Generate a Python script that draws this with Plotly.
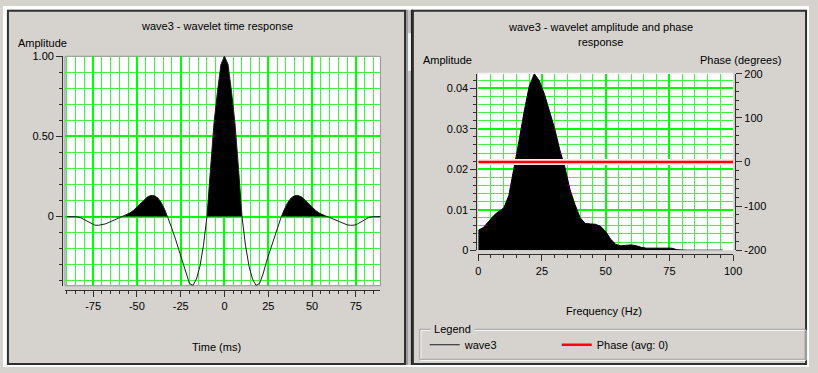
import plotly.graph_objects as go

# ---- wavelet time response (ms vs amplitude) ----
time_ms = [-90, -88, -86, -84, -82, -80, -78, -76, -74, -72, -70, -68, -66, -64, -62,
           -60, -58, -56, -54, -52, -50, -48, -46, -44, -42, -40, -38, -36, -34, -32,
           -30, -28, -26, -24, -22, -20, -18, -16, -14, -12, -10, -8, -6, -4, -2,
           0, 2, 4, 6, 8, 10, 12, 14, 16, 18, 20, 22, 24, 26, 28,
           30, 32, 34, 36, 38, 40, 42, 44, 46, 48, 50, 52, 54, 56, 58,
           60, 62, 64, 66, 68, 70, 72, 74, 76, 78, 80, 82, 84, 86, 88, 90]
wavelet_amp = [0.000, 0.000, 0.000, -0.002, -0.008, -0.019, -0.033, -0.046, -0.054, -0.055,
               -0.052, -0.046, -0.037, -0.027, -0.016, -0.006, 0.002, 0.010, 0.022, 0.038,
               0.058, 0.080, 0.103, 0.122, 0.131, 0.130, 0.115, 0.085, 0.040, -0.015,
               -0.075, -0.140, -0.210, -0.280, -0.360, -0.418, -0.430, -0.390, -0.310, -0.180,
               0.000, 0.300, 0.580, 0.780, 0.950,
               1.000,
               0.950, 0.780, 0.580, 0.300, 0.000, -0.180, -0.310, -0.390, -0.430, -0.418,
               -0.360, -0.280, -0.210, -0.140, -0.075, -0.015, 0.040, 0.085, 0.115, 0.130,
               0.131, 0.122, 0.103, 0.080, 0.058, 0.038, 0.022, 0.010, 0.002, -0.006,
               -0.016, -0.027, -0.037, -0.046, -0.052, -0.055, -0.054, -0.046, -0.033, -0.019,
               -0.008, -0.002, 0.000, 0.000, 0.000]
time_ticks = [-75, -50, -25, 0, 25, 50, 75]
time_tick_text = ["-75", "-50", "-25", "0", "25", "50", "75"]
amp_ticks = [0, 0.5, 1.0]
amp_tick_text = ["0", "0.50", "1.00"]

# ---- amplitude spectrum (Hz vs amplitude) and phase ----
freq_hz = [0, 2, 4, 6, 8, 10, 12, 14, 16, 18, 20, 22, 24, 26, 28, 30, 32, 34, 36, 38,
           40, 42, 44, 46, 48, 50, 52, 54, 56, 58, 60, 62, 64, 66, 68, 70, 72, 74, 76, 78,
           80, 82, 84, 86, 88, 90, 92, 94, 96]
spec_amp = [0.0049, 0.0056, 0.0070, 0.0085, 0.0096, 0.0104, 0.0135, 0.0200, 0.0270, 0.0342,
            0.0405, 0.0436, 0.0418, 0.0385, 0.0345, 0.0300, 0.0248, 0.0205, 0.0150, 0.0112,
            0.0080, 0.0066, 0.0065, 0.0064, 0.0059, 0.0046, 0.0027, 0.0014, 0.0011, 0.0012,
            0.0013, 0.0011, 0.0007, 0.0005, 0.0005, 0.0005, 0.0005, 0.0005, 0.0005, 0.0001,
            0.0, 0.0, 0.0, 0.0, 0.0, 0.0, 0.0, 0.0, 0.0]
phase_freq = [0, 100]
phase_deg = [0, 0]
freq_ticks = [0, 25, 50, 75, 100]
freq_tick_text = ["0", "25", "50", "75", "100"]
spec_ticks = [0, 0.01, 0.02, 0.03, 0.04]
spec_tick_text = ["0", "0.01", "0.02", "0.03", "0.04"]
phase_ticks = [-200, -100, 0, 100, 200]
phase_tick_text = ["-200", "-100", "0", "100", "200"]

W, H = 818, 373
PANEL = "#d6d3ce"
DARK = "#303030"
GREEN = "#00ff00"
GREEN_MINOR = "#3cf53c"
FONT = "Liberation Sans, Arial, sans-serif"


def px(x):
    return x / W


def py(y):
    return 1 - y / H


def positive_part(xv, yv):
    """Clip a polyline at zero from below, adding the zero crossings."""
    xs, ys = [], []
    for i in range(len(xv)):
        if i > 0 and (yv[i - 1] < 0 < yv[i] or yv[i - 1] > 0 > yv[i]):
            xc = xv[i - 1] + (xv[i] - xv[i - 1]) * (-yv[i - 1]) / (yv[i] - yv[i - 1])
            xs.append(xc)
            ys.append(0.0)
        xs.append(xv[i])
        ys.append(max(yv[i], 0.0))
    return xs, ys


fig = go.Figure()

pos_t, pos_a = positive_part(time_ms, wavelet_amp)
fig.add_trace(go.Scatter(x=pos_t, y=pos_a, xaxis="x", yaxis="y", mode="lines",
                         fill="tozeroy", fillcolor="black",
                         line=dict(color="rgba(0,0,0,0)", width=0),
                         showlegend=False, hoverinfo="skip"))
fig.add_trace(go.Scatter(x=time_ms, y=wavelet_amp, xaxis="x", yaxis="y", mode="lines",
                         line=dict(color="#1a1a1a", width=1), name="wave3"))

fig.add_trace(go.Scatter(x=freq_hz, y=spec_amp, xaxis="x2", yaxis="y2", mode="lines",
                         fill="tozeroy", fillcolor="black",
                         line=dict(color="black", width=1), showlegend=False))
fig.add_trace(go.Scatter(x=phase_freq, y=phase_deg, xaxis="x2", yaxis="y3", mode="lines",
                         line=dict(color="#ffe8e8", width=6), showlegend=False,
                         hoverinfo="skip"))
fig.add_trace(go.Scatter(x=phase_freq, y=phase_deg, xaxis="x2", yaxis="y3", mode="lines",
                         line=dict(color="#ff0000", width=2.5), name="Phase (avg: 0)"))

tick_font = dict(family=FONT, size=11, color="black")
axis_common = dict(showline=True, linecolor=DARK, linewidth=1, ticks="outside",
                   ticklen=6, tickcolor=DARK, zeroline=False, tickfont=tick_font,
                   fixedrange=True)

fig.update_layout(
    width=W, height=H, autosize=False,
    margin=dict(l=0, r=0, t=0, b=0),
    paper_bgcolor=PANEL, plot_bgcolor="white",
    font=dict(family=FONT, size=11, color="black"),
    xaxis=dict(domain=[px(63), px(383)], range=[-91, 89], anchor="free",
               position=py(293), tickvals=time_ticks, ticktext=time_tick_text,
               showgrid=True, gridcolor=GREEN, gridwidth=2,
               minor=dict(dtick=5, tick0=0, ticks="outside", ticklen=3,
                          tickcolor=DARK, showgrid=True, gridcolor=GREEN_MINOR,
                          gridwidth=1),
               **axis_common),
    yaxis=dict(domain=[py(289), py(52)], range=[-0.432, 1.0], anchor="free",
               position=px(60), tickvals=amp_ticks, ticktext=amp_tick_text,
               showgrid=True, gridcolor=GREEN, gridwidth=2,
               minor=dict(dtick=0.1, tick0=0, ticks="outside", ticklen=3,
                          tickcolor=DARK, showgrid=True, gridcolor=GREEN_MINOR,
                          gridwidth=1),
               **axis_common),
    xaxis2=dict(domain=[px(482.3), px(741)], range=[0, 100], anchor="free",
                position=py(256.7), tickvals=freq_ticks, ticktext=freq_tick_text,
                showgrid=True, gridcolor=GREEN, gridwidth=2,
                minor=dict(dtick=5, tick0=0, ticks="outside", ticklen=3,
                           tickcolor=DARK, showgrid=True, gridcolor=GREEN_MINOR,
                           gridwidth=1),
                **axis_common),
    yaxis2=dict(domain=[py(252.3), py(70)], range=[0, 0.0436], anchor="free",
                position=px(480.5), tickvals=spec_ticks, ticktext=spec_tick_text,
                showgrid=True, gridcolor=GREEN, gridwidth=2,
                minor=dict(dtick=0.002, tick0=0, ticks="outside", ticklen=3,
                           tickcolor=DARK, showgrid=True, gridcolor=GREEN_MINOR,
                           gridwidth=1),
                **axis_common),
    yaxis3=dict(overlaying="y2", side="right", range=[-200, 200], anchor="free",
                position=px(743), tickvals=phase_ticks, ticktext=phase_tick_text,
                showgrid=False,
                minor=dict(dtick=20, tick0=0, ticks="outside", ticklen=3,
                           tickcolor=DARK, showgrid=False),
                **axis_common),
    legend=dict(orientation="h", x=px(428), y=py(350), xanchor="left",
                yanchor="middle", bgcolor="rgba(0,0,0,0)", borderwidth=0,
                font=dict(family=FONT, size=11, color="black"),
                entrywidth=87, entrywidthmode="pixels", tracegroupgap=0),
)

shapes = []


def rect(x0, y0, x1, y1, line=None, fill=None, width=1, layer="below"):
    shapes.append(dict(type="rect", xref="paper", yref="paper",
                       x0=px(x0), x1=px(x1), y0=py(y1), y1=py(y0),
                       line=dict(color=line or "rgba(0,0,0,0)", width=width if line else 0),
                       fillcolor=fill or "rgba(0,0,0,0)", layer=layer))


def vline(x, y0, y1, color, width=1):
    shapes.append(dict(type="line", xref="paper", yref="paper",
                       x0=px(x), x1=px(x), y0=py(y0), y1=py(y1),
                       line=dict(color=color, width=width), layer="below"))


# page margins around the two panels
rect(0, 0, 818, 4, fill="white")
rect(0, 0, 4, 373, fill="white")
rect(815, 0, 818, 373, fill="white")
rect(0, 371, 818, 373, fill="white")
# splitter between the panels
rect(408, 4, 416, 371, fill="#c8c5c0")
vline(410, 4, 371, "#707070")
vline(415, 4, 371, "#202020", 2)
rect(411, 28, 414, 67, fill="#f0f0f0")
# panel frames
rect(5, 5, 408, 370, line=DARK, width=2)
rect(416, 5, 815, 370, line=DARK, width=2)
# plot-area edges
shapes.append(dict(type="rect", xref="x domain", yref="y domain", x0=0, x1=1, y0=0, y1=1,
                   line=dict(color="#909090", width=1), layer="below"))
shapes.append(dict(type="line", xref="x2 domain", yref="y2 domain", x0=0, x1=1, y0=1, y1=1,
                   line=dict(color="#f4f4f4", width=2), layer="below"))
# legend group box (etched)
rect(424, 335, 815, 366, line="white")
rect(423, 334, 814, 365, line="#a0a0a0")

fig.update_layout(shapes=shapes)


def label(text, x, y, xanchor="center", bg=None):
    fig.add_annotation(text=text, xref="paper", yref="paper", x=px(x), y=py(y),
                       xanchor=xanchor, yanchor="middle", showarrow=False,
                       font=dict(family=FONT, size=11, color="black"),
                       bgcolor=bg, borderpad=0)


label("wave3 - wavelet time response", 216.7, 20.5)
label("Amplitude", 14, 38, xanchor="left")
label("Time (ms)", 216.7, 352)
label("wave3 - wavelet amplitude and phase", 606.5, 21.5)
label("response", 606, 37.5)
label("Amplitude", 425, 55.5, xanchor="left")
label("Phase (degrees)", 791, 55.5, xanchor="right")
label("Frequency (Hz)", 610, 315)
label(" Legend ", 433, 334, xanchor="left", bg=PANEL)

fig.write_html("out.html")
